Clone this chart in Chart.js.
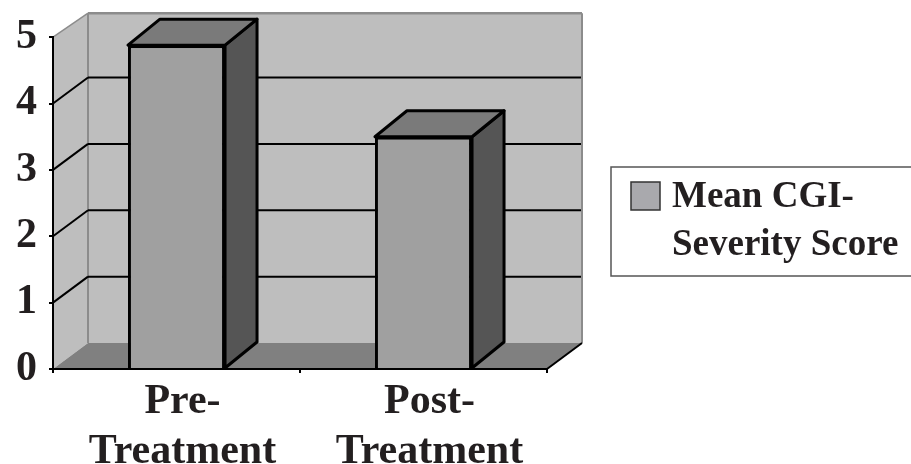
<!DOCTYPE html>
<html>
<head>
  <meta charset="UTF-8">
  <title>Mean CGI-Severity Score</title>
  <script src="https://cdn.jsdelivr.net/npm/chart.js"></script>
  <style>
    html, body { margin: 0; padding: 0; background: #fff; }
    #wrap { width: 911px; height: 464px; }
  </style>
</head>
<body>
  <div id="wrap"><canvas id="chart" width="911" height="464"></canvas></div>

  <script>
    const categories = [["Pre-", "Treatment"], ["Post-", "Treatment"]];
    const meanScores = [4.88, 3.5];
    const legendLines = ["Mean CGI-", "Severity Score"];
    const yTicks = [0, 1, 2, 3, 4, 5];

    const serif = "'Liberation Serif', 'Times New Roman', serif";
    const ink = "#231f20";
    const wallDx = 35, wallDy = 26, wallTopDy = 24;
    const barDx = 32, barDy = 26;

    function poly(ctx, pts, fill, stroke, lw) {
      ctx.beginPath();
      pts.forEach((p, i) => i ? ctx.lineTo(p[0], p[1]) : ctx.moveTo(p[0], p[1]));
      ctx.closePath();
      if (fill) { ctx.fillStyle = fill; ctx.fill(); }
      if (stroke) { ctx.strokeStyle = stroke; ctx.lineWidth = lw; ctx.lineJoin = "round"; ctx.stroke(); }
    }

    function seg(ctx, x1, y1, x2, y2, color, lw) {
      ctx.beginPath();
      ctx.moveTo(x1, y1);
      ctx.lineTo(x2, y2);
      ctx.strokeStyle = color;
      ctx.lineWidth = lw;
      ctx.stroke();
    }

    // the fake 3d room behind the bars
    const room = {
      id: "room",
      beforeDraw(chart) {
        const ctx = chart.ctx, y = chart.scales.y, a = chart.chartArea;
        const y0 = y.getPixelForValue(0), yTop = y.getPixelForValue(5);
        const backTop = yTop - wallTopDy;
        ctx.save();
        poly(ctx, [[a.left, y0], [a.left + wallDx, y0 - wallDy], [a.left + wallDx, backTop], [a.left, yTop]], "#bebebe");
        poly(ctx, [[a.left + wallDx, y0 - wallDy], [a.right + wallDx, y0 - wallDy], [a.right + wallDx, backTop], [a.left + wallDx, backTop]], "#bebebe");
        poly(ctx, [[a.left, y0], [a.right, y0], [a.right + wallDx, y0 - wallDy], [a.left + wallDx, y0 - wallDy]], "#808080");
        // wall edges
        seg(ctx, a.left, yTop, a.left + wallDx, backTop, "#8c8c8c", 1.5);
        seg(ctx, a.left + wallDx, backTop, a.right + wallDx, backTop, "#8c8c8c", 2.5);
        seg(ctx, a.left + wallDx, backTop, a.left + wallDx, y0 - wallDy, "#8c8c8c", 2);
        seg(ctx, a.right + wallDx, backTop, a.right + wallDx, y0 - wallDy, "#8c8c8c", 2);
        // grid lines, slanted up the side wall then across the back
        yTicks.forEach(v => {
          if (v === 0 || v === 5) return;
          const py = y.getPixelForValue(v);
          seg(ctx, a.left, py, a.left + wallDx, py - wallDy, "#000", 2);
          seg(ctx, a.left + wallDx, py - wallDy, a.right + wallDx - 1, py - wallDy, "#000", 2);
        });
        seg(ctx, a.right, y0, a.right + wallDx, y0 - wallDy, "#000", 2);
        ctx.restore();
      },
      beforeDatasetsDraw(chart) {
        const ctx = chart.ctx;
        ctx.save();
        chart.getDatasetMeta(0).data.forEach(bar => {
          const p = bar.getProps(["x", "y", "base", "width"], true);
          const l = p.x - p.width / 2, r = p.x + p.width / 2;
          poly(ctx, [[r, p.y], [r + barDx, p.y - barDy], [r + barDx, p.base - barDy], [r, p.base]], "#555555", "#000", 3);
          poly(ctx, [[l, p.y], [r, p.y], [r + barDx, p.y - barDy], [l + barDx, p.y - barDy]], "#7a7a7a", "#000", 3);
        });
        ctx.restore();
      },
      afterDraw(chart) {
        // legend box, text wraps so it is drawn here
        const ctx = chart.ctx;
        ctx.save();
        ctx.strokeStyle = "#555";
        ctx.lineWidth = 1.5;
        ctx.strokeRect(611, 167, 310, 109);
        ctx.fillStyle = "#a9a9ad";
        ctx.strokeStyle = "#333";
        ctx.lineWidth = 1.5;
        ctx.fillRect(631, 182, 29, 28);
        ctx.strokeRect(631, 182, 29, 28);
        ctx.fillStyle = ink;
        ctx.font = "bold 37px " + serif;
        ctx.textBaseline = "alphabetic";
        ctx.textAlign = "left";
        ctx.fillText(legendLines[0], 672, 207);
        ctx.fillText(legendLines[1], 672, 255);
        ctx.restore();
      }
    };

    new Chart(document.getElementById("chart"), {
      type: "bar",
      data: {
        labels: categories,
        datasets: [{
          label: legendLines.join(" "),
          data: meanScores,
          backgroundColor: "#a0a0a0",
          borderColor: "#000",
          borderWidth: 3,
          barPercentage: 0.393,
          categoryPercentage: 1
        }]
      },
      options: {
        responsive: false,
        animation: false,
        layout: { padding: { top: 37, right: 364, left: 0, bottom: 0 } },
        plugins: { legend: { display: false }, tooltip: { enabled: false } },
        scales: {
          x: {
            afterFit(s) { s.height = 95; },
            border: { color: "#000", width: 2 },
            grid: { drawOnChartArea: false, color: "#000", lineWidth: 2, tickLength: 4, offset: true },
            ticks: {
              color: ink,
              maxRotation: 0,
              padding: 5,
              labelOffset: 6,
              font: { family: serif, size: 42, weight: "bold", lineHeight: 1.17 }
            }
          },
          y: {
            min: 0,
            max: 5,
            afterFit(s) { s.width = 53; },
            border: { color: "#000", width: 2 },
            grid: { drawOnChartArea: false, color: "#000", lineWidth: 2, tickLength: 4 },
            ticks: {
              stepSize: 1,
              color: ink,
              padding: 12,
              font: { family: serif, size: 42, weight: "bold" }
            }
          }
        }
      },
      plugins: [room]
    });
  </script>
</body>
</html>
